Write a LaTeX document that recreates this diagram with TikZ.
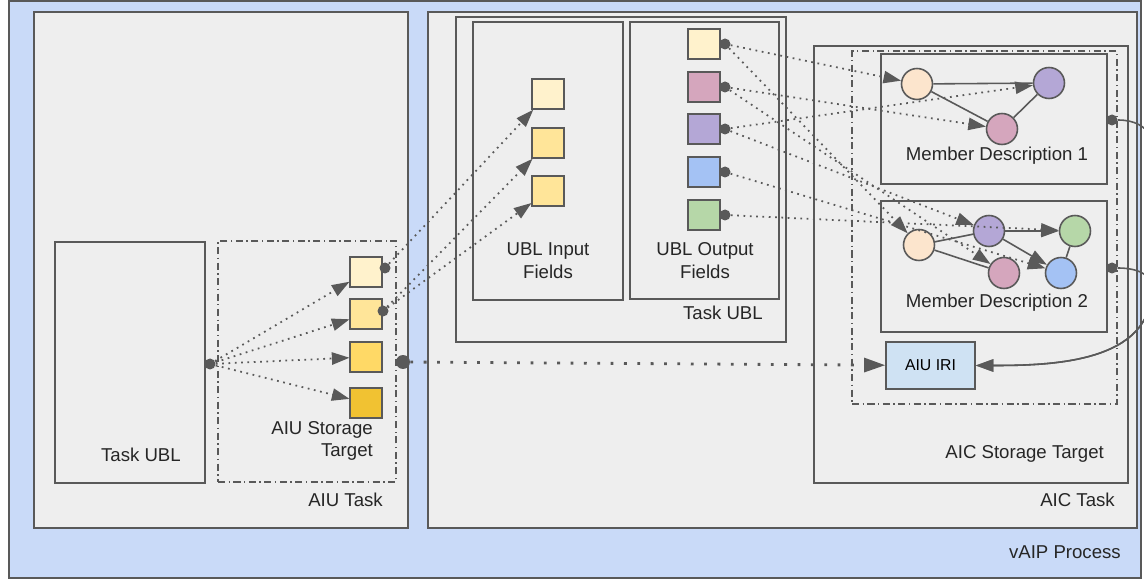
\documentclass[tikz,border=0pt]{standalone}
\usepackage{fontspec}
\setmainfont{Liberation Sans}
\usetikzlibrary{arrows.meta}
\definecolor{vaipblue}{HTML}{C9DAF8}
\definecolor{boxgray}{HTML}{EEEEEE}
\definecolor{linegray}{HTML}{595959}
\definecolor{sq1}{HTML}{FFF2CC}
\definecolor{sq2}{HTML}{FFE599}
\definecolor{sq3}{HTML}{FFD966}
\definecolor{sq4}{HTML}{F1C232}
\definecolor{fpink}{HTML}{D5A6BD}
\definecolor{fpurple}{HTML}{B4A7D6}
\definecolor{fblue}{HTML}{A4C2F4}
\definecolor{fgreen}{HTML}{B6D7A8}
\definecolor{peach}{HTML}{FCE5CD}
\definecolor{iriblue}{HTML}{CFE2F3}
\begin{document}
\begin{tikzpicture}[x=0.02cm, y=-0.02cm, font=\fontsize{10.6}{13}\selectfont,
  box/.style={rectangle, draw=linegray, line width=0.9pt, fill=boxgray, inner sep=0pt},
  dashbox/.style={rectangle, draw=linegray, line width=0.9pt, dash pattern=on 4pt off 2pt on 0.8pt off 2pt, inner sep=0pt},
  field/.style={rectangle, draw=linegray, line width=0.9pt, minimum width=0.63cm, minimum height=0.6cm, inner sep=0pt},
  member/.style={circle, draw=linegray, line width=0.9pt, minimum size=0.62cm, inner sep=0pt},
  joint/.style={circle, fill=linegray, minimum size=0.22cm, inner sep=0pt},
  link/.style={draw=linegray, line width=1pt, dash pattern=on 1pt off 2.6pt, -{Triangle[length=10pt,width=7pt]}},
  solidlink/.style={draw=linegray, line width=0.9pt},
  lbl/.style={anchor=base east, text=black!85}]
\useasboundingbox (0,0) rectangle (1144,584);
% frames
\node[box, fill=vaipblue, minimum width=22.64cm, minimum height=11.54cm] (vaip) at (575,289.5) {};
\node[box, minimum width=7.48cm, minimum height=10.32cm] (aiutask) at (221,270) {};
\node[box, minimum width=3cm, minimum height=4.82cm] (taskubl) at (130,362.5) {};
\node[dashbox, minimum width=3.56cm, minimum height=4.82cm] (aiust) at (307,361.5) {};
\node[box, minimum width=14.18cm, minimum height=10.32cm] (aictask) at (782.5,270) {};
\node[box, minimum width=6.6cm, minimum height=6.5cm] (ubl) at (621,179.5) {};
\node[box, minimum width=3cm, minimum height=5.56cm] (infields) at (548,161) {};
\node[box, minimum width=2.98cm, minimum height=5.54cm] (outfields) at (704.5,160.5) {};
\node[box, minimum width=6.28cm, minimum height=8.74cm] (aicst) at (971,264.5) {};
\node[dashbox, minimum width=5.3cm, minimum height=7.06cm] (aicinner) at (984.5,227.5) {};
\node[box, minimum width=4.52cm, minimum height=2.6cm] (md1) at (994,119) {};
\node[box, minimum width=4.52cm, minimum height=2.62cm] (md2) at (994,266.5) {};
\node[box, fill=iriblue, minimum width=1.78cm, minimum height=0.94cm, font=\fontsize{9}{10}\selectfont] (iri) at (930.5,365.5) {AIU IRI};
% labels
\node[lbl] at (1127,559) {vAIP Process};
\node[lbl] at (1121,507) {AIC Task};
\node[lbl] at (1110,459) {AIC Storage Target};
\node[lbl] at (389,507) {AIU Task};
\node[lbl] at (187,461) {Task UBL};
\node[anchor=east, align=right, text=black!85] at (379,441) {AIU Storage\\Target};
\node[lbl] at (769,320) {Task UBL};
\node[align=center, text=black!85] at (548,261) {UBL Input\\Fields};
\node[align=center, text=black!85] at (705,261) {UBL Output\\Fields};
\node[text=black!85] at (997,156) {Member Description 1};
\node[text=black!85] at (997,303) {Member Description 2};
% fields: name, y, colour
\foreach \i/\y/\c in {1/272/sq1, 2/314/sq2, 3/357/sq3, 4/403/sq4}
  \node[field, fill=\c] (a\i) at (366,\y) {};
\foreach \i/\y/\c in {1/94/sq1, 2/143/sq2, 3/191/sq2}
  \node[field, fill=\c] (in\i) at (548,\y) {};
\foreach \i/\y/\c in {1/44/sq1, 2/87/fpink, 3/129/fpurple, 4/172/fblue, 5/215/fgreen} {
  \node[field, fill=\c] (out\i) at (704,\y) {};
  \node[joint] (o\i) at (725,\y) {};
}
\node[joint] (src) at (210,364) {};
\node[joint] (d1) at (385,268) {};
\node[joint] (d2) at (383,311) {};
\node[joint, minimum size=0.28cm] (bigdot) at (403,362) {};
\node[joint] (m1) at (1112,120) {};
\node[joint] (m2) at (1112,268) {};
% member descriptions
\node[member, fill=peach] (p1) at (917,84) {};
\node[member, fill=fpurple] (u1) at (1049,83) {};
\node[member, fill=fpink] (k1) at (1002,129) {};
\node[member, fill=peach] (p2) at (919,245) {};
\node[member, fill=fpurple] (u2) at (989,231) {};
\node[member, fill=fgreen] (g2) at (1075,231) {};
\node[member, fill=fpink] (k2) at (1004,273) {};
\node[member, fill=fblue] (b2) at (1061,273) {};
\foreach \s/\t in {p1/u1, p1/k1, k1/u1, p2/u2, p2/k2, g2/b2}
  \draw[solidlink] (\s) -- (\t);
\draw[solidlink, -{Triangle[length=10pt,width=7pt]}] (u2) -- (g2);
\draw[solidlink, -{Triangle[length=10pt,width=7pt]}] (u2) -- (b2);
% dotted mappings
\foreach \s/\t in {src/a1, src/a2, src/a3, src/a4, d1/in1, d2/in2, d2/in3,
  o1/p1, o1/p2, o2/k1, o2/k2, o3/u1, o3/u2, o4/b2, o5/g2}
  \draw[link] (\s) -- (\t);
\draw[link, line width=1.6pt, dash pattern=on 1.6pt off 6pt, -{Triangle[length=12pt,width=8pt]}] (bigdot) -- (iri);
% back references
\coordinate (bend) at (1152,288);
\draw[solidlink, -{Triangle[length=10pt,width=7pt]}] (m1) to[out=0,in=90] (bend) to[out=-90,in=0] (iri.east);
\draw[solidlink, -{Triangle[length=10pt,width=7pt]}] (m2) to[out=0,in=90] (bend) to[out=-90,in=0] (iri.east);
\end{tikzpicture}
\end{document}
